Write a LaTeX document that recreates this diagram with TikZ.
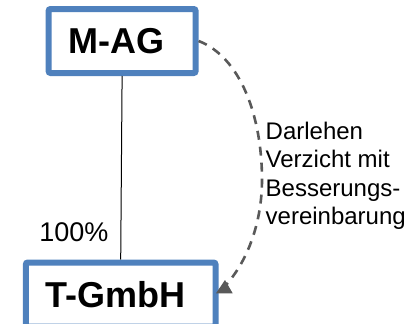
\documentclass[tikz,border=0pt]{standalone}
\usepackage{fontspec}
\setmainfont{Liberation Sans}
\definecolor{boxblue}{HTML}{4F81BD}
\definecolor{dashgray}{HTML}{595959}
\tikzset{
  entity/.style={draw=boxblue, line width=6pt, rounded corners=2pt, fill=white,
    inner sep=0pt, font=\fontsize{36}{40}\selectfont\bfseries},
  own/.style={draw=black, line width=1pt},
  loan/.style={draw=dashgray, line width=2.6pt, dash pattern=on 9pt off 7pt},
  tiptri/.style={fill=dashgray, draw=none},
  lbl/.style={inner sep=0pt, font=\fontsize{24}{28.5}\selectfont, align=left},
  pct/.style={inner sep=0pt, font=\fontsize{27}{30}\selectfont}
}
\begin{document}
\begin{tikzpicture}[x=1pt, y=-1pt]
\useasboundingbox (0,0) rectangle (408,324);
\clip (0,0) rectangle (408,324);
\node[entity, minimum width=147pt, minimum height=64pt] (mag) at (122.1,41) {M-AG\hspace*{12pt}};
\node[entity, minimum width=189.7pt, minimum height=64pt] (tg) at (120.7,294.5) {T-GmbH\hspace*{11pt}};
\draw[own] (mag.south) -- (tg.north);
\node[pct, anchor=base] (p) at (73.8,241) {100\%};
\coordinate (mid) at (262,180);
\coordinate (tip) at (226,285);
\draw[loan] (mag.east) .. controls (240,57) and (262,115) .. (mid)
  .. controls (262,220) and (249,259) .. (tip);
\fill[tiptri] (216,293.3) -- (232.7,293.3) -- (225,280) -- cycle;
\node[lbl, anchor=base west] (t) at (265.5,224.5) {Darlehen\\Verzicht mit\\Besserungs-\\vereinbarung};
\end{tikzpicture}
\end{document}
